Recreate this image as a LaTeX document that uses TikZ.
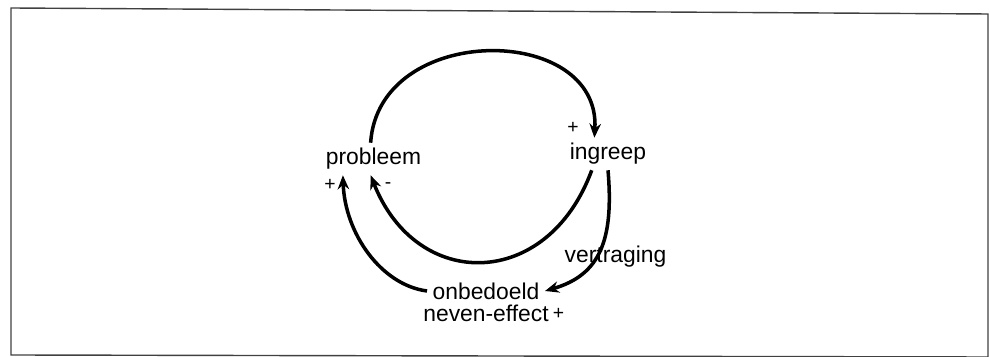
\documentclass[tikz,border=0pt]{standalone}
\usepackage{fontspec}
\setmainfont{Liberation Sans}
\usetikzlibrary{positioning, arrows.meta}

\begin{document}
\begin{tikzpicture}[
  x=1cm, y=1cm,
  var/.style={inner sep=3pt, font=\fontsize{13}{15}\selectfont},
  sign/.style={inner sep=1pt, font=\fontsize{11}{13}\selectfont},
  link/.style={-{Stealth[length=8pt, width=6.5pt]}, line width=2pt, draw=black},
  frame/.style={draw=black!75, line width=0.8pt},
]
\useasboundingbox (0,0) rectangle (19.8,-7.14);
\draw[frame] (0.22,-0.16) -- (19.76,-0.28) -- (19.76,-7.14) -- (0.22,-7.10) -- cycle;

\node[var] (probleem) at (7.47,-3.18) {probleem};
\node[var] (ingreep) at (12.16,-3.08) {ingreep};
\node[var] (effect) at (9.72,-5.82) {onbedoeld};
\node[var, below=-3pt of effect] (neven) {neven-effect};
\node[var] (delay) at (12.31,-5.14) {vertraging};

\node[sign] (s1) at (11.46,-2.56) {+};
\node[sign] (s2) at (6.60,-3.70) {+};
\node[sign] (s3) at (7.76,-3.72) {-};
\node[sign, right=-2pt of neven] (s4) {+};

\draw[link] (probleem.100) .. controls +(0.16,2.42) and +(0.14,2.3) .. (ingreep.130);
\draw[link] (ingreep.225) .. controls +(-0.88,-2.4) and +(0.92,-2.34) .. (probleem.260);
\draw[link] (ingreep.south) .. controls +(0.12,-1.4) and +(1.1,0.32) .. (effect.east);
\draw[link] (effect.west) .. controls +(-0.92,0.12) and +(0.04,-1.16) .. (probleem.208);

\end{tikzpicture}
\end{document}
